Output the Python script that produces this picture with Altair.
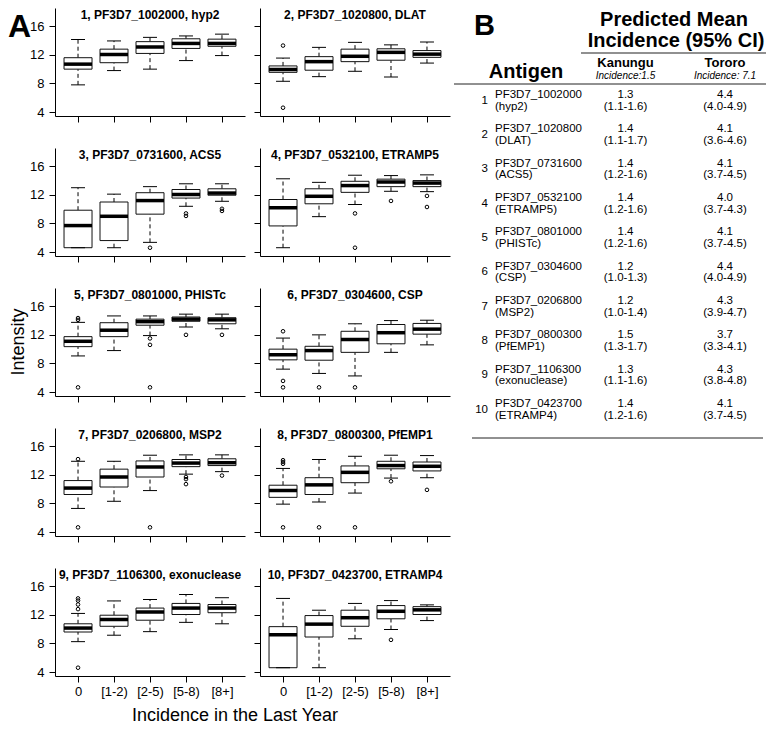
import altair as alt
import pandas as pd

FONT = "Liberation Sans"

categories = ["0", "[1-2)", "[2-5)", "[5-8)", "[8+]"]

antigen_ids = ["PF3D7_1002000", "PF3D7_1020800", "PF3D7_0731600", "PF3D7_0532100",
               "PF3D7_0801000", "PF3D7_0304600", "PF3D7_0206800", "PF3D7_0800300",
               "PF3D7_1106300", "PF3D7_0423700"]
antigen_names = ["hyp2", "DLAT", "ACS5", "ETRAMP5", "PHISTc", "CSP", "MSP2",
                 "PfEMP1", "exonuclease", "ETRAMP4"]

whisker_lo = [
    [7.8, 9.8, 10.0, 11.2, 11.9],
    [8.3, 8.95, 9.7, 8.9, 10.85],
    [4.6, 4.6, 5.35, 10.4, 11.1],
    [4.6, 8.95, 10.65, 12.5, 12.45],
    [9.05, 9.8, 11.9, 13.1, 12.85],
    [7.2, 6.6, 6.25, 9.55, 10.6],
    [7.3, 8.3, 9.8, 12.1, 12.45],
    [7.9, 8.2, 9.45, 11.55, 11.6],
    [8.25, 9.15, 9.65, 10.95, 10.75],
    [4.6, 4.6, 8.65, 9.95, 11.2],
]
box_q1 = [
    [10.0, 10.9, 12.2, 12.9, 13.2],
    [9.55, 9.85, 11.05, 11.25, 11.65],
    [4.6, 5.6, 9.3, 11.55, 11.95],
    [7.65, 10.75, 12.35, 13.15, 13.15],
    [10.35, 11.75, 13.35, 13.9, 13.55],
    [8.5, 8.45, 9.55, 10.75, 12.1],
    [9.25, 10.3, 11.7, 13.15, 13.3],
    [8.85, 9.25, 10.9, 12.85, 12.55],
    [9.6, 10.4, 11.25, 12.05, 12.3],
    [4.6, 8.9, 10.4, 11.45, 12.05],
]
box_med = [
    [10.7, 12.05, 13.1, 13.6, 13.6],
    [9.95, 11.05, 11.8, 12.35, 12.1],
    [7.7, 9.0, 11.2, 12.05, 12.25],
    [10.2, 11.8, 13.3, 13.8, 13.65],
    [11.1, 12.65, 13.85, 14.2, 14.1],
    [9.2, 9.8, 11.35, 12.3, 12.8],
    [10.15, 11.7, 13.1, 13.65, 13.7],
    [9.8, 10.6, 12.35, 13.3, 13.2],
    [10.15, 11.35, 12.4, 12.95, 12.95],
    [9.2, 10.7, 11.6, 12.5, 12.7],
]
box_q3 = [
    [11.6, 12.8, 13.85, 14.25, 14.2],
    [10.45, 11.75, 12.8, 12.85, 12.6],
    [9.85, 11.0, 12.3, 12.75, 12.85],
    [11.35, 12.85, 13.9, 14.2, 14.0],
    [11.75, 13.7, 14.2, 14.5, 14.4],
    [10.0, 10.4, 12.5, 13.45, 13.6],
    [11.2, 12.8, 13.95, 14.15, 14.25],
    [10.55, 11.6, 13.25, 13.9, 13.8],
    [10.75, 11.95, 12.95, 13.6, 13.45],
    [10.35, 11.9, 12.65, 13.3, 13.15],
]
whisker_hi = [
    [14.15, 13.95, 14.45, 14.65, 14.9],
    [11.55, 13.05, 13.75, 13.4, 13.8],
    [13.0, 12.1, 13.15, 13.55, 13.55],
    [14.25, 13.75, 14.75, 14.7, 14.8],
    [13.75, 14.65, 14.65, 14.9, 14.9],
    [11.55, 12.0, 13.55, 14.0, 14.05],
    [13.9, 13.9, 14.75, 14.8, 14.8],
    [12.9, 14.15, 14.6, 14.75, 14.7],
    [12.2, 13.95, 14.15, 14.85, 14.4],
    [14.3, 12.65, 13.6, 14.0, 13.4],
]
# (category index, value)
outliers = [
    [],
    [(0, 13.3), (0, 4.6)],
    [(2, 4.6), (3, 9.4), (3, 9.05), (4, 10.05), (4, 9.75)],
    [(2, 9.4), (2, 4.6), (3, 11.15), (4, 11.85), (4, 10.3)],
    [(0, 14.35), (0, 14.1), (0, 4.65), (2, 11.5), (2, 10.6), (2, 4.65), (3, 12.0), (4, 12.0)],
    [(0, 12.5), (0, 5.55), (0, 4.65), (1, 4.65), (2, 4.65)],
    [(0, 14.2), (0, 4.65), (2, 4.65), (3, 11.7), (3, 11.4), (3, 10.7), (4, 11.9)],
    [(0, 14.05), (0, 13.8), (0, 13.55), (0, 4.65), (1, 4.65), (2, 4.65), (3, 11.1), (4, 9.9)],
    [(0, 14.3), (0, 14.0), (0, 13.45), (0, 12.8), (0, 4.6)],
    [(3, 8.5)],
]

kanungu_mean = ["1.3", "1.4", "1.4", "1.4", "1.4", "1.2", "1.2", "1.5", "1.3", "1.4"]
kanungu_ci = ["(1.1-1.6)", "(1.1-1.7)", "(1.2-1.6)", "(1.2-1.6)", "(1.2-1.6)",
              "(1.0-1.3)", "(1.0-1.4)", "(1.3-1.7)", "(1.1-1.6)", "(1.2-1.6)"]
tororo_mean = ["4.4", "4.1", "4.1", "4.0", "4.1", "4.4", "4.3", "3.7", "4.3", "4.1"]
tororo_ci = ["(4.0-4.9)", "(3.6-4.6)", "(3.7-4.5)", "(3.7-4.3)", "(3.7-4.5)",
             "(4.0-4.9)", "(3.9-4.7)", "(3.3-4.1)", "(3.8-4.8)", "(3.7-4.5)"]

W, H = 190, 108
YDOM = [3.44, 18.56]


def label(text, x, y, size, weight="normal", style="normal", align="center", angle=0):
    return alt.Chart(pd.DataFrame({"t": [text]})).mark_text(
        font=FONT, fontSize=size, fontWeight=weight, fontStyle=style,
        align=align, baseline="middle", angle=angle, color="black"
    ).encode(text="t:N", x=alt.value(x), y=alt.value(y))


def hline(x1, x2, y, width=1.0):
    return alt.Chart(pd.DataFrame({"k": [0]})).mark_rule(color="#222", strokeWidth=width).encode(
        x=alt.value(x1), x2=alt.value(x2), y=alt.value(y))


def table_layer():
    tdf = pd.DataFrame({
        "row": list(range(1, 11)),
        "num": [str(i) for i in range(1, 11)],
        "gid": antigen_ids,
        "pname": ["(" + n + ")" for n in antigen_names],
        "km": kanungu_mean, "kci": kanungu_ci,
        "tm": tororo_mean, "tci": tororo_ci,
    })
    yrow = alt.Y("row:Q", scale=alt.Scale(domain=[1, 10], range=[87, 396], nice=False, zero=False), axis=None)
    base = alt.Chart(tdf)

    def col(field, x, align, dy, size=11.5):
        return base.mark_text(font=FONT, fontSize=size, align=align, baseline="middle",
                              dy=dy, color="black").encode(text=f"{field}:N", x=alt.value(x), y=yrow)

    layers = [
        col("num", 228, "right", 5.75),
        col("gid", 235, "left", 0),
        col("pname", 235, "left", 11.5),
        col("km", 365.5, "center", 0),
        col("kci", 365.5, "center", 11.5),
        col("tm", 465, "center", 0),
        col("tci", 465, "center", 11.5),
        label("B", 214, 18, 29, weight="bold", align="left"),
        label("Predicted Mean", 414, 12, 20, weight="bold"),
        label("Incidence (95% CI)", 416, 33, 20, weight="bold"),
        hline(321, 506, 45, 1.2),
        label("Kanungu", 365.5, 55, 13, weight="bold"),
        label("Tororo", 465, 55, 13, weight="bold"),
        label("Incidence:1.5", 365.5, 67.5, 10, style="italic"),
        label("Incidence: 7.1", 465, 67.5, 10, style="italic"),
        label("Antigen", 266, 64, 20, weight="bold"),
        hline(194, 506, 76, 1.0),
        hline(212, 503, 430, 1.0),
    ]
    return alt.layer(*layers)


def panel(i):
    df = pd.DataFrame({"cat": categories, "lo": whisker_lo[i], "q1": box_q1[i],
                       "med": box_med[i], "q3": box_q3[i], "hi": whisker_hi[i]})
    od = pd.DataFrame({"cat": [categories[c] for c, v in outliers[i]],
                       "val": [float(v) for c, v in outliers[i]]})
    left = (i % 2 == 0)
    bottom = (i >= 8)
    xenc = alt.X("cat:N", scale=alt.Scale(type="point", domain=categories, padding=0.64),
                 axis=alt.Axis(title=None, labels=bottom, labelAngle=0, tickSize=6,
                               labelPadding=3, labelFontSize=13))
    ysc = alt.Scale(domain=YDOM, nice=False, zero=False)
    yax = alt.Axis(values=[4, 8, 12, 16], title=None, labels=left, tickSize=6,
                   labelPadding=5, labelFontSize=13)

    def Y(f):
        return alt.Y(f"{f}:Q", scale=ysc, axis=yax)

    base = alt.Chart(df)
    w_lo = base.mark_rule(color="black", strokeDash=[4, 3], strokeWidth=1).encode(x=xenc, y=Y("lo"), y2="q1:Q")
    w_hi = base.mark_rule(color="black", strokeDash=[4, 3], strokeWidth=1).encode(x=xenc, y=Y("q3"), y2="hi:Q")
    box = base.mark_bar(fill="white", stroke="#111", strokeWidth=1, size=28, opacity=1).encode(
        x=xenc, y=Y("q1"), y2="q3:Q")
    med = base.mark_tick(color="black", thickness=3.5, size=28, opacity=1).encode(x=xenc, y=Y("med"))
    cap_lo = base.mark_tick(color="black", thickness=1, size=14, opacity=1).encode(x=xenc, y=Y("lo"))
    cap_hi = base.mark_tick(color="black", thickness=1, size=14, opacity=1).encode(x=xenc, y=Y("hi"))
    pts = alt.Chart(od).mark_point(shape="circle", filled=False, size=13, strokeWidth=1,
                                   color="black", opacity=1).encode(x=xenc, y=Y("val"))
    title = label(f"{i + 1}, {antigen_ids[i]}, {antigen_names[i]}", W / 2, 7, 12, weight="bold")
    layers = [w_lo, w_hi, box, med, cap_lo, cap_hi, pts, title]
    if i == 0:
        layers.append(label("A", -47, 19, 32, weight="bold", align="left"))
    if i == 4:
        layers.append(label("Intensity", -36, H / 2, 18, angle=270))
    if i == 8:
        layers.append(label("Incidence in the Last Year", 180, 148, 18))
    inner = alt.layer(*layers).properties(width=W, height=H)
    if i == 1:
        return alt.layer(inner, table_layer()).resolve_scale(y="independent").properties(width=W, height=H)
    return inner


panels = [panel(i) for i in range(10)]

chart = alt.concat(*panels, columns=2, spacing={"row": 32, "column": 15}, bounds="flush").properties(
    padding=0
).configure_view(stroke=None).configure_axis(
    domainColor="black", tickColor="black", labelColor="black", labelFont=FONT,
    grid=False, domainWidth=1, tickWidth=1
)

chart.save("out.html", embed_options={"renderer": "svg", "actions": False})
